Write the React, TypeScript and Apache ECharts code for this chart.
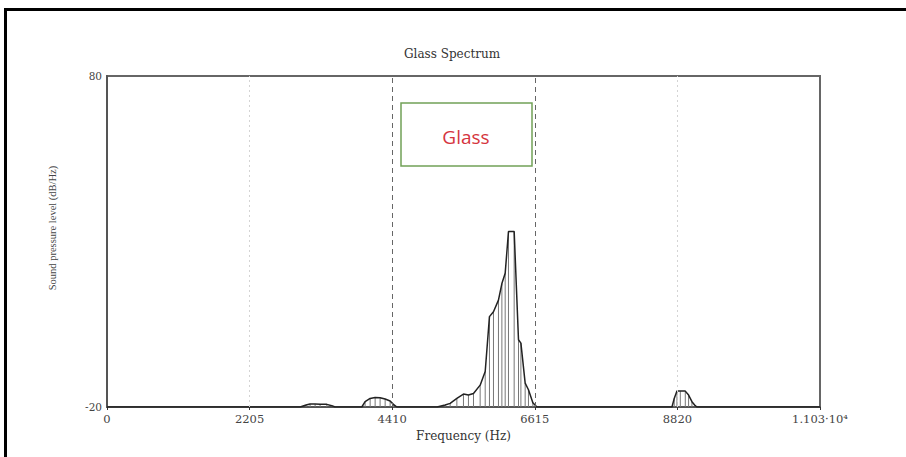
import React, { useEffect, useRef } from "react";
import * as echarts from "echarts";

// Spectrum samples: frequency (Hz) and sound pressure level (dB/Hz)
const freqHz = [
  0,
  2986, 3078, 3140, 3218, 3295, 3399, 3476, 3527,
  3940, 3991, 4069, 4146, 4223, 4301, 4378, 4429, 4482,
  5105, 5229, 5306, 5410, 5512, 5589, 5667, 5770, 5848, 5914, 5976, 6053,
  6106, 6157, 6208, 6296, 6363, 6400, 6466, 6517, 6585, 6648,
  8736, 8771, 8813, 8865, 8942, 8993, 9045, 9096, 9122,
  11025,
];
const levelDb = [
  -20,
  -20, -19.4, -19.1, -19.1, -19.2, -19.2, -19.6, -20,
  -20, -18.4, -17.4, -17.1, -17.2, -17.6, -18.2, -19.2, -20,
  -20, -19.4, -18.9, -17.4, -16.1, -16.4, -15.9, -13.4, -9.3, 7.3, 8.8, 12.3,
  17.3, 20.4, 33.0, 33.0, 0.3, -0.7, -12.8, -14.8, -18.7, -20,
  -20, -17.4, -15.2, -15.2, -15.2, -16.4, -18.4, -19.6, -20,
  -20,
];

const xTickValues = [0, 2205, 4410, 6615, 8820, 11025];
const xTickLabels = ["0", "2205", "4410", "6615", "8820", "1.103·10⁴"];
const yTickLabels = ["-20", "80"];
const dashedMarks = [4410, 6615];
const dottedMarks = [2205, 8820];

const titleText = "Glass Spectrum";
const xName = "Frequency (Hz)";
const yName = "Sound pressure level (dB/Hz)";
const boxLabel = "Glass";

export default function App() {
  const ref = useRef<HTMLDivElement>(null);
  useEffect(() => {
    if (!ref.current) return;
    const chart = echarts.init(ref.current, null, { renderer: "svg" });
    const points = freqHz.map((f, i) => [f, levelDb[i]]);
    const serif = "DejaVu Serif";
    const yMin = -20;
    chart.setOption({
      animation: false,
      backgroundColor: "#ffffff",
      title: {
        text: titleText,
        left: 399,
        top: 43,
        textStyle: { fontFamily: serif, fontSize: 12, fontWeight: "normal", color: "#333" },
      },
      grid: {
        left: 107,
        right: 86,
        top: 76,
        bottom: 50,
        show: true,
        borderColor: "#666",
        borderWidth: 2,
      },
      xAxis: {
        type: "value",
        min: 0,
        max: 11025,
        interval: 2205,
        name: xName,
        nameLocation: "middle",
        nameGap: 19,
        nameTextStyle: { fontFamily: serif, fontSize: 12, color: "#333" },
        axisLine: { show: true, onZero: false, lineStyle: { color: "#555", width: 2 } },
        axisTick: { show: true, length: 3, lineStyle: { color: "#333" } },
        axisLabel: {
          margin: 6,
          fontFamily: serif,
          fontSize: 11.5,
          color: "#444",
          formatter: (v: number) => {
            const i = xTickValues.indexOf(v);
            return i >= 0 ? xTickLabels[i] : "";
          },
        },
        splitLine: { show: false },
      },
      yAxis: {
        type: "value",
        min: -20,
        max: 80,
        interval: 20,
        axisLine: { show: true, onZero: false, lineStyle: { color: "#555", width: 2 } },
        axisTick: { show: false },
        axisLabel: {
          margin: 5,
          fontFamily: serif,
          fontSize: 10.5,
          color: "#444",
          formatter: (v: number) => (yTickLabels.includes(String(v)) ? String(v) : ""),
        },
        splitLine: { show: false },
      },
      series: [
        {
          type: "custom",
          data: points,
          silent: true,
          z: 2,
          renderItem: (params: any, api: any) => {
            const x = api.value(0);
            const y = api.value(1);
            const top = api.coord([x, y]);
            const base = api.coord([x, yMin]);
            return {
              type: "line",
              shape: { x1: base[0], y1: base[1], x2: top[0], y2: top[1] },
              style: { stroke: "#777", lineWidth: 1 },
            };
          },
        },
        {
          type: "line",
          data: points,
          symbol: "none",
          z: 3,
          lineStyle: { color: "#222", width: 1.5 },
          markLine: {
            silent: true,
            symbol: "none",
            label: { show: false },
            data: [
              ...dashedMarks.map((v) => ({
                xAxis: v,
                lineStyle: { color: "#666", type: [5, 4], width: 1 },
              })),
              ...dottedMarks.map((v) => ({
                xAxis: v,
                lineStyle: { color: "#d4d4d4", type: [2, 3], width: 1 },
              })),
            ],
          },
        },
      ],
      graphic: [
        {
          type: "text",
          x: 52,
          y: 228,
          rotation: Math.PI / 2,
          style: {
            text: yName,
            fontFamily: "Liberation Serif",
            fontSize: 10.5,
            fill: "#444",
            align: "center",
            verticalAlign: "middle",
          },
        },
        {
          type: "rect",
          shape: { x: 401, y: 103, width: 131, height: 63 },
          style: { fill: "#ffffff", stroke: "#72a157", lineWidth: 1.5 },
          z: 10,
        },
        {
          type: "text",
          x: 466,
          y: 137,
          z: 11,
          style: {
            text: boxLabel,
            fontFamily: "Open Sans",
            fontSize: 19,
            fill: "#d5343e",
            align: "center",
            verticalAlign: "middle",
          },
        },
        {
          type: "polyline",
          shape: { points: [[5.5, 457], [5.5, 9.5], [906, 9.5]] },
          style: { stroke: "#000", lineWidth: 3, fill: "none" },
          z: 20,
        },
      ],
    });
    return () => chart.dispose();
  }, []);
  return (
    <div
      ref={ref}
      style={{ position: "fixed", left: 0, top: 0, width: 906, height: 457, background: "#fff" }}
    />
  );
}
